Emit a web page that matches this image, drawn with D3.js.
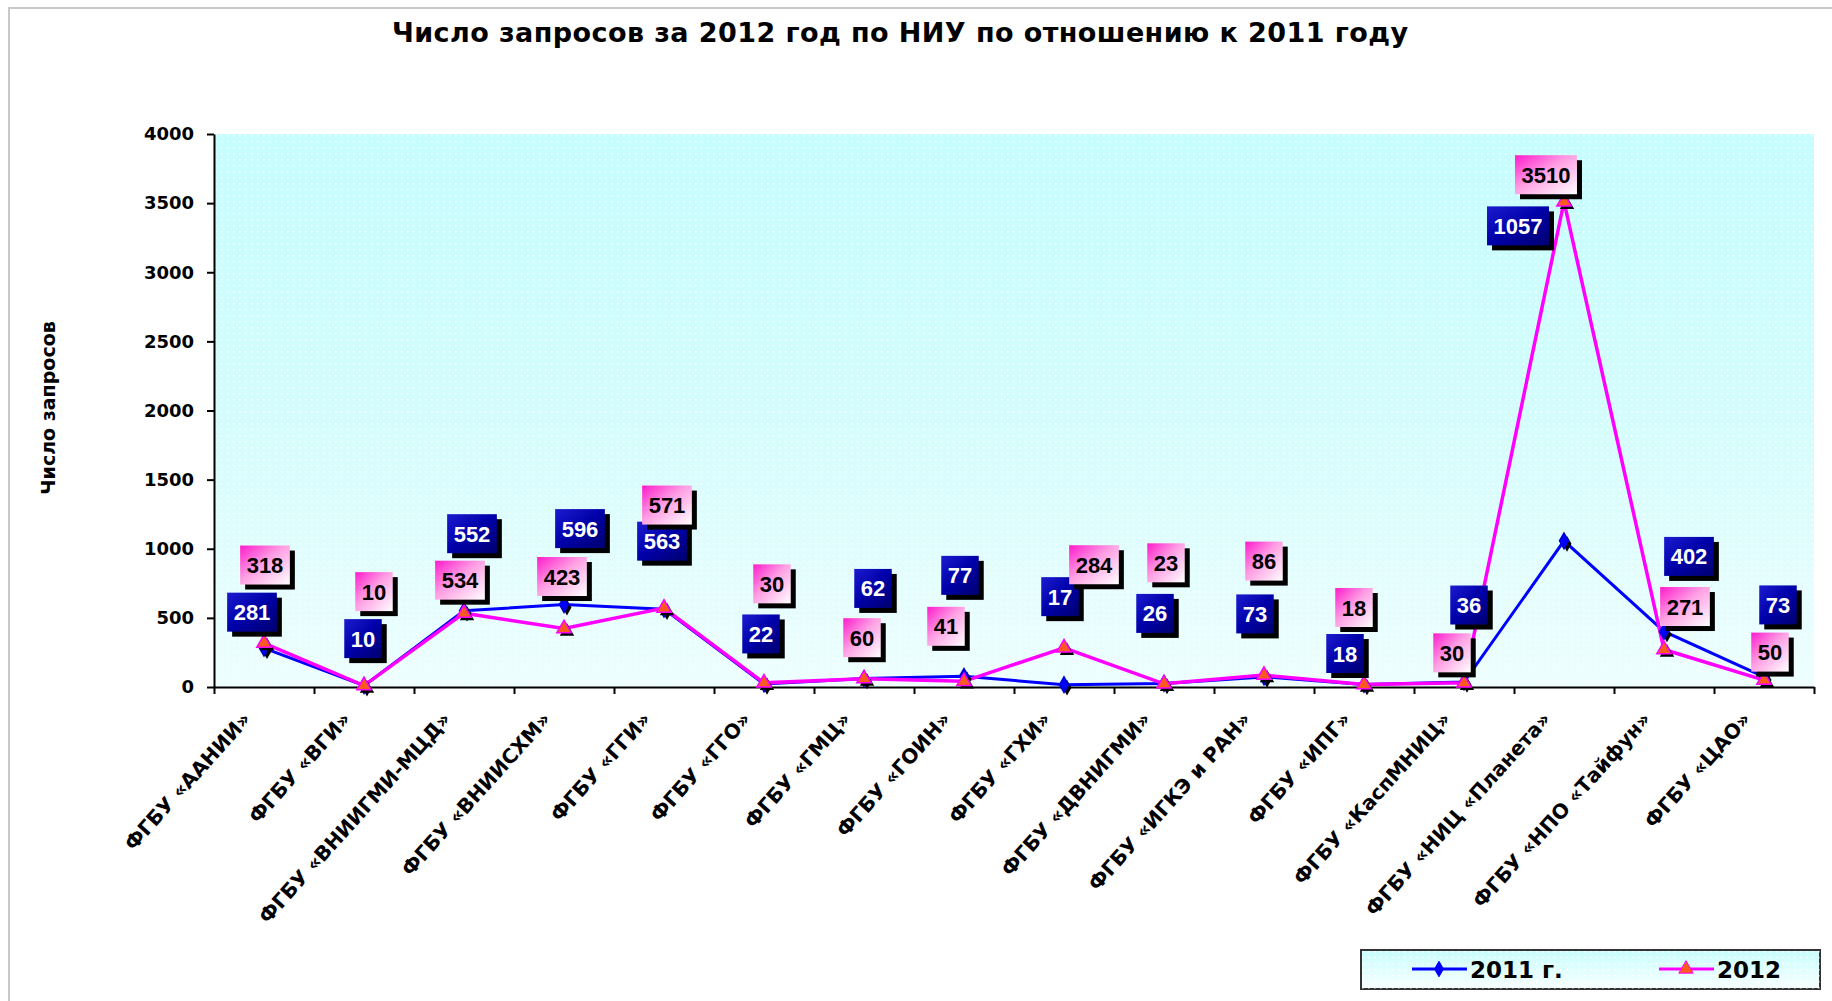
<!DOCTYPE html>
<html>
<head>
<meta charset="utf-8">
<script src="https://cdn.jsdelivr.net/npm/d3@7"></script>
<style>
  body { margin: 0; background: #fff; }
  svg { display: block; }
</style>
</head>
<body>
<div class="chart"></div>
<script>
// categories and series
var categories = [
  "ФГБУ «ААНИИ»", "ФГБУ «ВГИ»", "ФГБУ «ВНИИГМИ-МЦД»", "ФГБУ «ВНИИСХМ»",
  "ФГБУ «ГГИ»", "ФГБУ «ГГО»", "ФГБУ «ГМЦ»", "ФГБУ «ГОИН»", "ФГБУ «ГХИ»",
  "ФГБУ «ДВНИГМИ»", "ФГБУ «ИГКЭ и РАН»", "ФГБУ «ИПГ»", "ФГБУ «КаспМНИЦ»",
  "ФГБУ «НИЦ «Планета»", "ФГБУ «НПО «Тайфун»", "ФГБУ «ЦАО»"
];
var values2011 = [281, 10, 552, 596, 563, 22, 62, 77, 17, 26, 73, 18, 36, 1057, 402, 73];
var values2012 = [318, 10, 534, 423, 571, 30, 60, 41, 284, 23, 86, 18, 30, 3510, 271, 50];
var yTicks = [0, 500, 1000, 1500, 2000, 2500, 3000, 3500, 4000];
var seriesNames = ["2011 г.", "2012"];
var chartTitle = "Число запросов за 2012 год по НИУ по отношению к 2011 году";
var yTitle = "Число запросов";

// where each data label box sits relative to its point (px)
var labelShift2011 = [[-12,-36],[-1,-47],[8,-77],[16,-76],[-2,-68],[-3,-50],[9,-90],[-4,-101],
                      [-4,-88],[-9,-70],[-9,-63],[-19,-31],[5,-77],[-46,-315],[25,-75],[14,-72]];
var labelShift2012 = [[1,-78],[10,-94],[-4,-33],[-2,-52],[3,-103],[8,-99],[-2,-41],[-18,-55],
                      [30,-83],[2,-121],[0,-114],[-10,-77],[-12,-30],[-18,-27],[21,-43],[6,-28]];

var svgWidth = 1832, svgHeight = 1001;
var margin = { top: 134, right: 18, bottom: 314, left: 214 };
var width = svgWidth - margin.left - margin.right;
var height = svgHeight - margin.top - margin.bottom;

var svg = d3.select(".chart").append("svg")
  .attr("width", svgWidth)
  .attr("height", svgHeight);

var defs = svg.append("defs");

var bg = defs.append("linearGradient").attr("id", "plotBg")
  .attr("x1", 0).attr("y1", 0).attr("x2", 0).attr("y2", 1);
bg.append("stop").attr("offset", "0%").attr("stop-color", "#c6fdfd");
bg.append("stop").attr("offset", "50%").attr("stop-color", "#d4fcfc");
bg.append("stop").attr("offset", "100%").attr("stop-color", "#eefefe");

var lgBg = defs.append("linearGradient").attr("id", "legendBg")
  .attr("x1", 0).attr("y1", 0).attr("x2", 0).attr("y2", 1);
lgBg.append("stop").attr("offset", "0%").attr("stop-color", "#c8fdfd");
lgBg.append("stop").attr("offset", "100%").attr("stop-color", "#f8ffff");

var dots = defs.append("pattern").attr("id", "dots")
  .attr("width", 6).attr("height", 6).attr("patternUnits", "userSpaceOnUse");
dots.append("rect").attr("x", 1).attr("y", 1).attr("width", 1.5).attr("height", 1.5)
  .attr("fill", "#ffffff").attr("opacity", 0.9);

var blueBox = defs.append("linearGradient").attr("id", "blueBox")
  .attr("x1", 0).attr("y1", 0).attr("x2", 1).attr("y2", 1);
blueBox.append("stop").attr("offset", "0%").attr("stop-color", "#1c1cd0");
blueBox.append("stop").attr("offset", "50%").attr("stop-color", "#0000a8");
blueBox.append("stop").attr("offset", "100%").attr("stop-color", "#000070");

var pinkBox = defs.append("linearGradient").attr("id", "pinkBox")
  .attr("x1", 0).attr("y1", 0).attr("x2", 1).attr("y2", 1);
pinkBox.append("stop").attr("offset", "0%").attr("stop-color", "#ff1acc");
pinkBox.append("stop").attr("offset", "45%").attr("stop-color", "#ff9ee3");
pinkBox.append("stop").attr("offset", "100%").attr("stop-color", "#ffffff");

// outer frame (left + top only visible)
svg.append("path")
  .attr("d", "M9,1001 V8 H1832")
  .attr("fill", "none")
  .attr("stroke", "#c8c8c8")
  .attr("stroke-width", 2);

// title
svg.append("text")
  .attr("x", 900).attr("y", 42)
  .attr("text-anchor", "middle")
  .attr("font-family", "DejaVu Sans")
  .attr("font-weight", "bold")
  .attr("font-size", "27px")
  .attr("textLength", 1016)
  .attr("lengthAdjust", "spacing")
  .text(chartTitle);

// y axis title
svg.append("text")
  .attr("transform", "translate(55, 408) rotate(-90)")
  .attr("text-anchor", "middle")
  .attr("font-family", "DejaVu Sans")
  .attr("font-weight", "bold")
  .attr("font-size", "19px")
  .text(yTitle);

var chartGroup = svg.append("g")
  .attr("transform", `translate(${margin.left}, ${margin.top})`);

var xScale = d3.scaleBand().domain(categories).range([0, width]).padding(0);
var yScale = d3.scaleLinear().domain([0, 4000]).range([height, 0]);
var xPos = function(i) { return xScale(categories[i]) + xScale.bandwidth() / 2; };

// plot background
chartGroup.append("rect")
  .attr("width", width).attr("height", height)
  .attr("fill", "url(#plotBg)");
chartGroup.append("rect")
  .attr("width", width).attr("height", height)
  .attr("fill", "url(#dots)");

// axes
var yAxis = d3.axisLeft(yScale)
  .tickValues(yTicks)
  .tickFormat(d3.format("d"))
  .tickSize(7)
  .tickSizeOuter(0)
  .tickPadding(13);
var yAxisG = chartGroup.append("g").call(yAxis);
yAxisG.selectAll("text")
  .attr("font-family", "DejaVu Sans")
  .attr("font-weight", "bold")
  .attr("font-size", "18px")
  .attr("fill", "#000");
yAxisG.selectAll("line, path").attr("stroke", "#000").attr("stroke-width", 2);

var boundary = d3.scaleLinear().domain([0, categories.length]).range([0, width]);
var xAxis = d3.axisBottom(boundary).ticks(categories.length).tickSize(7).tickSizeOuter(0).tickFormat("");
var xAxisG = chartGroup.append("g")
  .attr("transform", `translate(0, ${height})`)
  .call(xAxis);
xAxisG.selectAll("line, path").attr("stroke", "#000").attr("stroke-width", 2);

chartGroup.append("g").selectAll("text")
  .data(categories)
  .enter()
  .append("text")
  .attr("transform", (d, i) => `translate(${xPos(i) - 12}, ${height + 33}) rotate(-48)`)
  .attr("text-anchor", "end")
  .attr("font-family", "DejaVu Sans")
  .attr("font-weight", "bold")
  .attr("font-size", "20px")
  .text(d => d);

// lines
var line = d3.line()
  .x((d, i) => xPos(i))
  .y(d => yScale(d));

chartGroup.append("path")
  .datum(values2011)
  .attr("d", line)
  .attr("fill", "none")
  .attr("stroke", "#0000ff")
  .attr("stroke-width", 3);

chartGroup.append("path")
  .datum(values2012)
  .attr("d", line)
  .attr("fill", "none")
  .attr("stroke", "#ff00ff")
  .attr("stroke-width", 3.5);

// markers
var diamond = d3.symbol().type(d3.symbolDiamond).size(70);
var triangle = d3.symbol().type(d3.symbolTriangle).size(90);

function addMarkers(values, sym, fill, stroke) {
  var g = chartGroup.append("g");
  g.selectAll(".shadow")
    .data(values)
    .enter()
    .append("path")
    .attr("d", sym)
    .attr("transform", (d, i) => `translate(${xPos(i) + 3}, ${yScale(d) + 3})`)
    .attr("fill", "#000");
  g.selectAll(".mark")
    .data(values)
    .enter()
    .append("path")
    .attr("d", sym)
    .attr("transform", (d, i) => `translate(${xPos(i)}, ${yScale(d)})`)
    .attr("fill", fill)
    .attr("stroke", stroke)
    .attr("stroke-width", 1.5);
}
addMarkers(values2011, diamond, "#0000ff", "#0000cc");
addMarkers(values2012, triangle, "#ff5a1e", "#ff00ff");

// data labels
function addLabels(values, shifts, fill, textColor) {
  var g = chartGroup.append("g");
  values.forEach(function(v, i) {
    var cx = xPos(i) + shifts[i][0];
    var cy = yScale(v) + shifts[i][1];
    var lg = g.append("g").attr("transform", `translate(${cx}, ${cy})`);
    var shadow = lg.append("rect").attr("fill", "#000");
    var box = lg.append("rect").attr("fill", fill);
    var t = lg.append("text")
      .attr("text-anchor", "middle")
      .attr("y", 8)
      .attr("font-family", "Liberation Sans, Arial")
      .attr("font-weight", "bold")
      .attr("font-size", "22px")
      .attr("fill", textColor)
      .text(v);
    var w = t.node().getComputedTextLength() + 13;
    var h = 39;
    box.attr("x", -w / 2).attr("y", -h / 2).attr("width", w).attr("height", h);
    shadow.attr("x", -w / 2 + 5).attr("y", -h / 2 + 5).attr("width", w).attr("height", h);
  });
}
addLabels(values2011, labelShift2011, "url(#blueBox)", "#ffffff");
addLabels(values2012, labelShift2012, "url(#pinkBox)", "#000000");

// legend
var legend = svg.append("g").attr("transform", "translate(1361, 950)");
legend.append("rect")
  .attr("width", 459).attr("height", 39)
  .attr("fill", "url(#legendBg)")
  .attr("stroke", "#333")
  .attr("stroke-width", 2);
legend.append("rect")
  .attr("width", 459).attr("height", 39)
  .attr("fill", "url(#dots)");

var legendItems = [
  { name: seriesNames[0], color: "#0000ff", sym: diamond, fill: "#0000ff", x: 51 },
  { name: seriesNames[1], color: "#ff00ff", sym: triangle, fill: "#ff5a1e", x: 298 }
];
legendItems.forEach(function(item) {
  legend.append("line")
    .attr("x1", item.x).attr("x2", item.x + 55)
    .attr("y1", 19).attr("y2", 19)
    .attr("stroke", item.color)
    .attr("stroke-width", 3);
  legend.append("path")
    .attr("d", item.sym)
    .attr("transform", `translate(${item.x + 27}, 19)`)
    .attr("fill", item.fill)
    .attr("stroke", item.color);
  legend.append("text")
    .attr("x", item.x + 58).attr("y", 28)
    .attr("font-family", "DejaVu Sans")
    .attr("font-weight", "bold")
    .attr("font-size", "23px")
    .text(item.name);
});
</script>
</body>
</html>
